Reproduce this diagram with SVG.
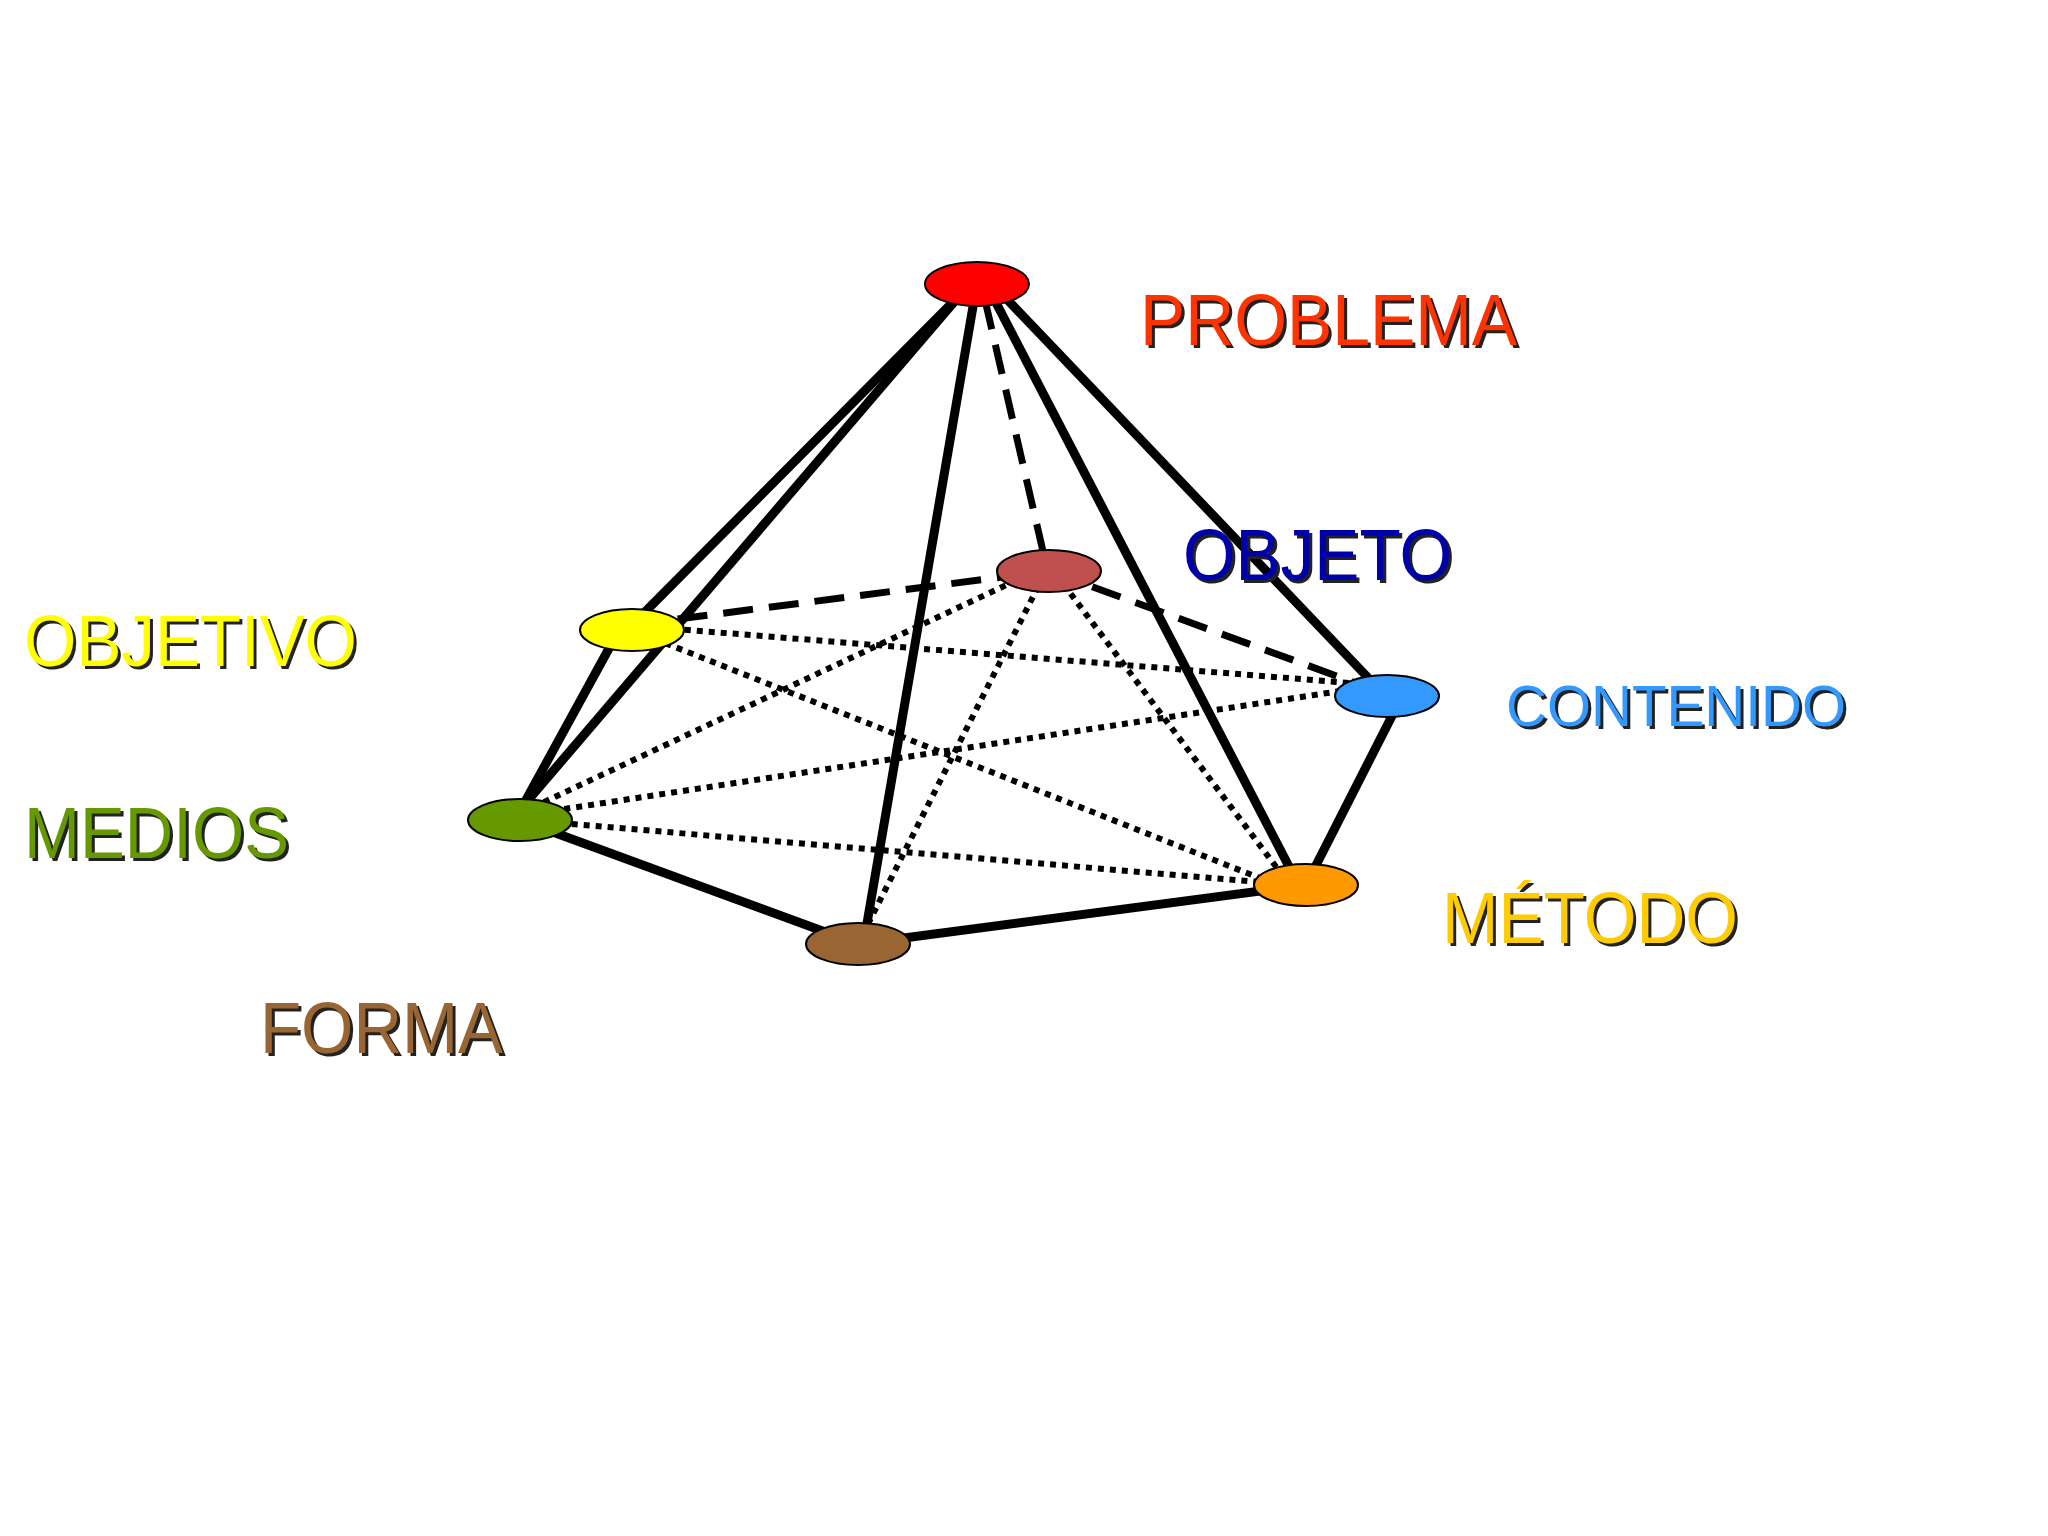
<svg xmlns="http://www.w3.org/2000/svg" width="2048" height="1536" viewBox="0 0 2048 1536">
<style>
.s{stroke:#000;stroke-width:9;fill:none}
.d{stroke:#000;stroke-width:7;fill:none;stroke-dasharray:30 16}
.o{stroke:#000;stroke-width:6;fill:none;stroke-dasharray:6 6}
.n{stroke:#000;stroke-width:2}
text{font-family:"Liberation Sans",Arial,sans-serif;font-size:72px}
.sh{fill:#222}
</style>
<rect width="2048" height="1536" fill="#fff"/>
<g id="connectors">
<line class="s" x1="960" y1="295" x2="632" y2="625"/>
<line class="s" x1="960" y1="295" x2="518" y2="812"/>
<line class="s" x1="975" y1="295" x2="865" y2="935"/>
<line class="s" x1="992" y1="295" x2="1296" y2="880"/>
<line class="s" x1="1000" y1="292" x2="1375" y2="685"/>
<line class="s" x1="618" y1="632" x2="515" y2="820"/>
<line class="s" x1="520" y1="820" x2="858" y2="944"/>
<line class="s" x1="858" y1="944" x2="1306" y2="885"/>
<line class="s" x1="1306" y1="885" x2="1395" y2="710"/>
<line class="d" x1="985" y1="300" x2="1045" y2="560"/>
<line class="d" x1="632" y1="625" x2="1049" y2="571"/>
<line class="d" x1="1049" y1="571" x2="1375" y2="690"/>
<line class="o" x1="625" y1="625" x2="1375" y2="685"/>
<line class="o" x1="632" y1="630" x2="1295" y2="892"/>
<line class="o" x1="1049" y1="565" x2="510" y2="818"/>
<line class="o" x1="1049" y1="565" x2="865" y2="930"/>
<line class="o" x1="1049" y1="565" x2="1295" y2="892"/>
<line class="o" x1="505" y1="818" x2="1380" y2="685"/>
<line class="o" x1="500" y1="818" x2="1295" y2="885"/>
</g>
<g id="problema"><ellipse class="n" cx="977" cy="284" rx="52" ry="22" fill="#ff0000"/>
<text class="sh" x="1143" y="348" textLength="377" lengthAdjust="spacingAndGlyphs">PROBLEMA</text>
<text x="1140" y="345" fill="#ff3300" textLength="377" lengthAdjust="spacingAndGlyphs">PROBLEMA</text></g>
<g id="objeto"><ellipse class="n" cx="1049" cy="571" rx="52" ry="21" fill="#c0504d"/>
<text class="sh" x="1186" y="583" textLength="269" lengthAdjust="spacingAndGlyphs">OBJETO</text>
<text x="1183" y="580" fill="#0000aa" textLength="269" lengthAdjust="spacingAndGlyphs">OBJETO</text></g>
<g id="objetivo"><ellipse class="n" cx="632" cy="630" rx="52" ry="21" fill="#ffff00"/>
<text class="sh" x="27" y="669" textLength="333" lengthAdjust="spacingAndGlyphs">OBJETIVO</text>
<text x="24" y="666" fill="#ffff00" textLength="333" lengthAdjust="spacingAndGlyphs">OBJETIVO</text></g>
<g id="contenido"><ellipse class="n" cx="1387" cy="696" rx="52" ry="21" fill="#3399ff"/>
<text class="sh" x="1509" y="729" font-size="58" textLength="340" lengthAdjust="spacingAndGlyphs" style="font-size:58px">CONTENIDO</text>
<text x="1506" y="726" fill="#3399ff" textLength="340" lengthAdjust="spacingAndGlyphs" style="font-size:58px">CONTENIDO</text></g>
<g id="medios"><ellipse class="n" cx="520" cy="820" rx="52" ry="21" fill="#669900"/>
<text class="sh" x="27" y="861" textLength="265" lengthAdjust="spacingAndGlyphs">MEDIOS</text>
<text x="24" y="858" fill="#669900" textLength="265" lengthAdjust="spacingAndGlyphs">MEDIOS</text></g>
<g id="metodo"><ellipse class="n" cx="1306" cy="885" rx="52" ry="21" fill="#ff9900"/>
<text class="sh" x="1445" y="946" textLength="296" lengthAdjust="spacingAndGlyphs">MÉTODO</text>
<text x="1442" y="943" fill="#ffcc00" textLength="296" lengthAdjust="spacingAndGlyphs">MÉTODO</text></g>
<g id="forma"><ellipse class="n" cx="858" cy="944" rx="52" ry="21" fill="#996633"/>
<text class="sh" x="263" y="1056" textLength="243" lengthAdjust="spacingAndGlyphs">FORMA</text>
<text x="260" y="1053" fill="#996633" textLength="243" lengthAdjust="spacingAndGlyphs">FORMA</text></g>
</svg>
